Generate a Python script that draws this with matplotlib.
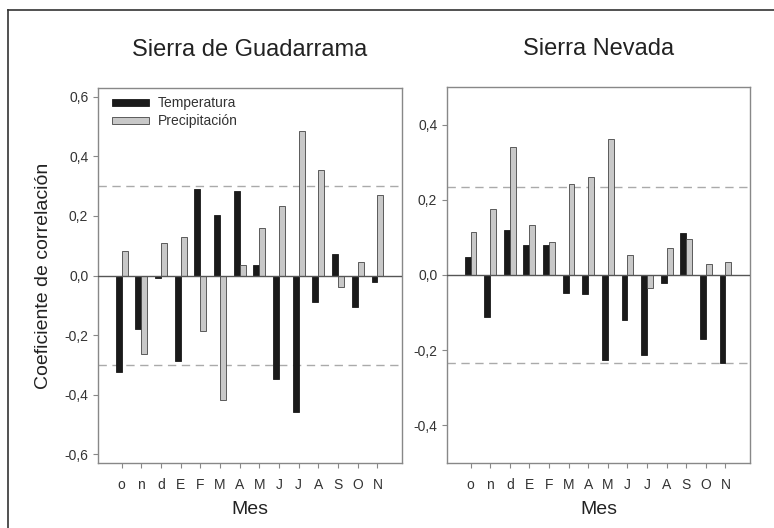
import matplotlib
matplotlib.use('Agg')
import matplotlib.pyplot as plt
from matplotlib.lines import Line2D
from matplotlib.patches import Patch
import numpy as np

plt.rcParams['font.family'] = ['Liberation Sans', 'DejaVu Sans']

meses = ['o', 'n', 'd', 'E', 'F', 'M', 'A', 'M', 'J', 'J', 'A', 'S', 'O', 'N']

# Sierra de Guadarrama
guad_temp = [-0.325, -0.18, -0.01, -0.287, 0.292, 0.204, 0.284, 0.036,
             -0.348, -0.458, -0.09, 0.073, -0.107, -0.022]
guad_prec = [0.084, -0.264, 0.11, 0.129, -0.185, -0.419, 0.036, 0.16,
             0.234, 0.485, 0.356, -0.04, 0.044, 0.27]
guad_sig = 0.30

# Sierra Nevada
nev_temp = [0.048, -0.112, 0.12, 0.081, 0.08, -0.049, -0.05, -0.227,
            -0.12, -0.212, -0.022, 0.111, -0.169, -0.235]
nev_prec = [0.114, 0.176, 0.341, 0.133, 0.087, 0.242, 0.261, 0.362,
            0.053, -0.034, 0.071, 0.095, 0.029, 0.035]
nev_sig = 0.233

fig = plt.figure(figsize=(7.74, 5.28), dpi=100)
# border lines (top and left only, as in the scan)
fig.add_artist(Line2D([8/774, 1], [1-10/528, 1-10/528], color='#333333', lw=1.2))
fig.add_artist(Line2D([8/774, 8/774], [0, 1-10/528], color='#333333', lw=1.2))

ax1 = fig.add_axes([98/774, 1-463/528, 304/774, 375/528])
ax2 = fig.add_axes([447/774, 1-463/528, 303/774, 376/528])

x = np.arange(len(meses))
w = 0.3

def panel(ax, temp, prec, sig, title, ylim, yticks):
    ax.bar(x - w/2, temp, w, color='#1a1a1a', edgecolor='#1a1a1a', lw=0.6, zorder=3)
    ax.bar(x + w/2, prec, w, color='#c8c8c8', edgecolor='#444444', lw=0.6, zorder=3)
    ax.axhline(0, color='#555555', lw=1.0, zorder=4)
    for s in (sig, -sig):
        ax.axhline(s, color='#aaaaaa', lw=1.0, ls=(0, (6, 4)), zorder=2)
    ax.set_xlim(-1.2, len(meses) - 1 + 1.25)
    ax.set_ylim(*ylim)
    ax.set_yticks(yticks)
    ax.set_yticklabels([('%.1f' % v).replace('.', ',') for v in yticks])
    ax.set_xticks(x)
    ax.set_xticklabels(meses)
    for sp in ax.spines.values():
        sp.set_color('#888888')
        sp.set_linewidth(1.0)
    ax.tick_params(direction='out', length=3.5, width=0.8, color='#888888',
                   labelsize=10, labelcolor='#333333')
    ax.tick_params(axis='x', pad=7)
    ax.set_xlabel('Mes', fontsize=14, color='#222222', labelpad=7)
    ax.set_title(title, fontsize=17, color='#222222', pad=23)

panel(ax1, guad_temp, guad_prec, guad_sig, 'Sierra de Guadarrama',
      (-0.63, 0.63), [-0.6, -0.4, -0.2, 0.0, 0.2, 0.4, 0.6])
panel(ax2, nev_temp, nev_prec, nev_sig, 'Sierra Nevada',
      (-0.5, 0.5), [-0.4, -0.2, 0.0, 0.2, 0.4])

ax1.set_ylabel('Coeficiente de correlación', fontsize=14, color='#222222', labelpad=9)

handles = [Patch(facecolor='#1a1a1a', edgecolor='#1a1a1a', lw=0.6),
           Patch(facecolor='#c8c8c8', edgecolor='#444444', lw=0.6)]
ax1.legend(handles, ['Temperatura', 'Precipitación'], loc='upper left',
           bbox_to_anchor=(0.02, 1.0), frameon=False, fontsize=10,
           handlelength=2.6, handleheight=0.45, handletextpad=0.7,
           labelspacing=0.3, borderaxespad=0.2, labelcolor='#333333')

fig.savefig('out.png', dpi=100)
